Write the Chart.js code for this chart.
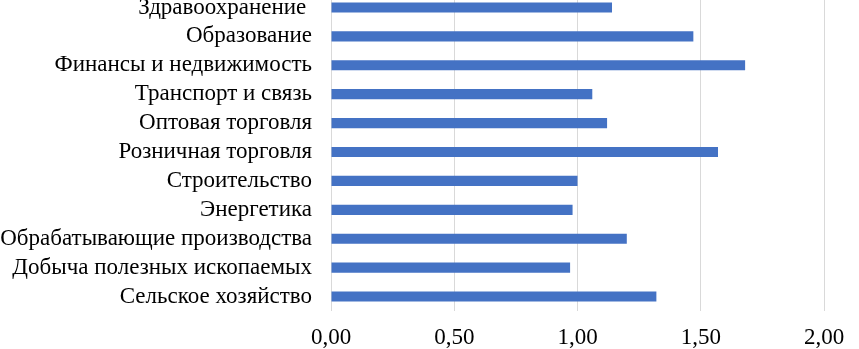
<!DOCTYPE html>
<html lang="ru">
<head>
    <meta charset="UTF-8">
    <title>Индексы по отраслям</title>
    <script src="https://cdn.jsdelivr.net/npm/chart.js"></script>
    <style>
        html, body {
            margin: 0;
            padding: 0;
            background: #ffffff;
            overflow: hidden;
        }
        .chart-wrap {
            position: relative;
            width: 859px;
            height: 349px;
            overflow: hidden;
        }
        .chart-wrap canvas {
            position: absolute;
            left: 0;
            top: -7px;
        }
    </style>
</head>
<body>
    <div class="chart-wrap">
        <canvas id="chart" width="859" height="356"></canvas>
    </div>

    <script>
        const sectors = [
            'Здравоохранение ',
            'Образование',
            'Финансы и недвижимость',
            'Транспорт и связь',
            'Оптовая торговля',
            'Розничная торговля',
            'Строительство',
            'Энергетика',
            'Обрабатывающие производства',
            'Добыча полезных ископаемых',
            'Сельское хозяйство'
        ];
        const values = [1.14, 1.47, 1.68, 1.06, 1.12, 1.57, 1.00, 0.98, 1.20, 0.97, 1.32];
        const xTicks = [0, 0.5, 1, 1.5, 2];

        const font = { family: '"Liberation Serif", "Times New Roman", serif', size: 23 };

        new Chart(document.getElementById('chart'), {
            type: 'bar',
            data: {
                labels: sectors,
                datasets: [{
                    data: values,
                    backgroundColor: '#4472C4',
                    borderWidth: 0,
                    categoryPercentage: 1,
                    barPercentage: 0.35
                }]
            },
            options: {
                indexAxis: 'y',
                responsive: false,
                animation: false,
                layout: { padding: { left: 0, right: 35, top: 0, bottom: 0 } },
                plugins: {
                    legend: { display: false },
                    tooltip: { enabled: false }
                },
                scales: {
                    x: {
                        min: 0,
                        max: 2,
                        afterBuildTicks: axis => { axis.ticks = xTicks.map(v => ({ value: v })); },
                        afterFit: axis => {
                            axis.height = 38;
                            axis.paddingLeft = 0;
                            axis.paddingRight = 0;
                        },
                        grid: { color: '#d9d9d9', drawTicks: false },
                        border: { display: false },
                        ticks: {
                            color: '#000',
                            font: font,
                            padding: 13,
                            maxRotation: 0,
                            callback: v => v.toFixed(2).replace('.', ',')
                        }
                    },
                    y: {
                        afterFit: axis => {
                            axis.width = 331;
                            axis.paddingTop = 0;
                            axis.paddingBottom = 0;
                        },
                        grid: { display: false, drawTicks: false },
                        border: { display: false },
                        ticks: {
                            color: '#000',
                            font: font,
                            padding: 19,
                            autoSkip: false
                        }
                    }
                }
            }
        });
    </script>
</body>
</html>
